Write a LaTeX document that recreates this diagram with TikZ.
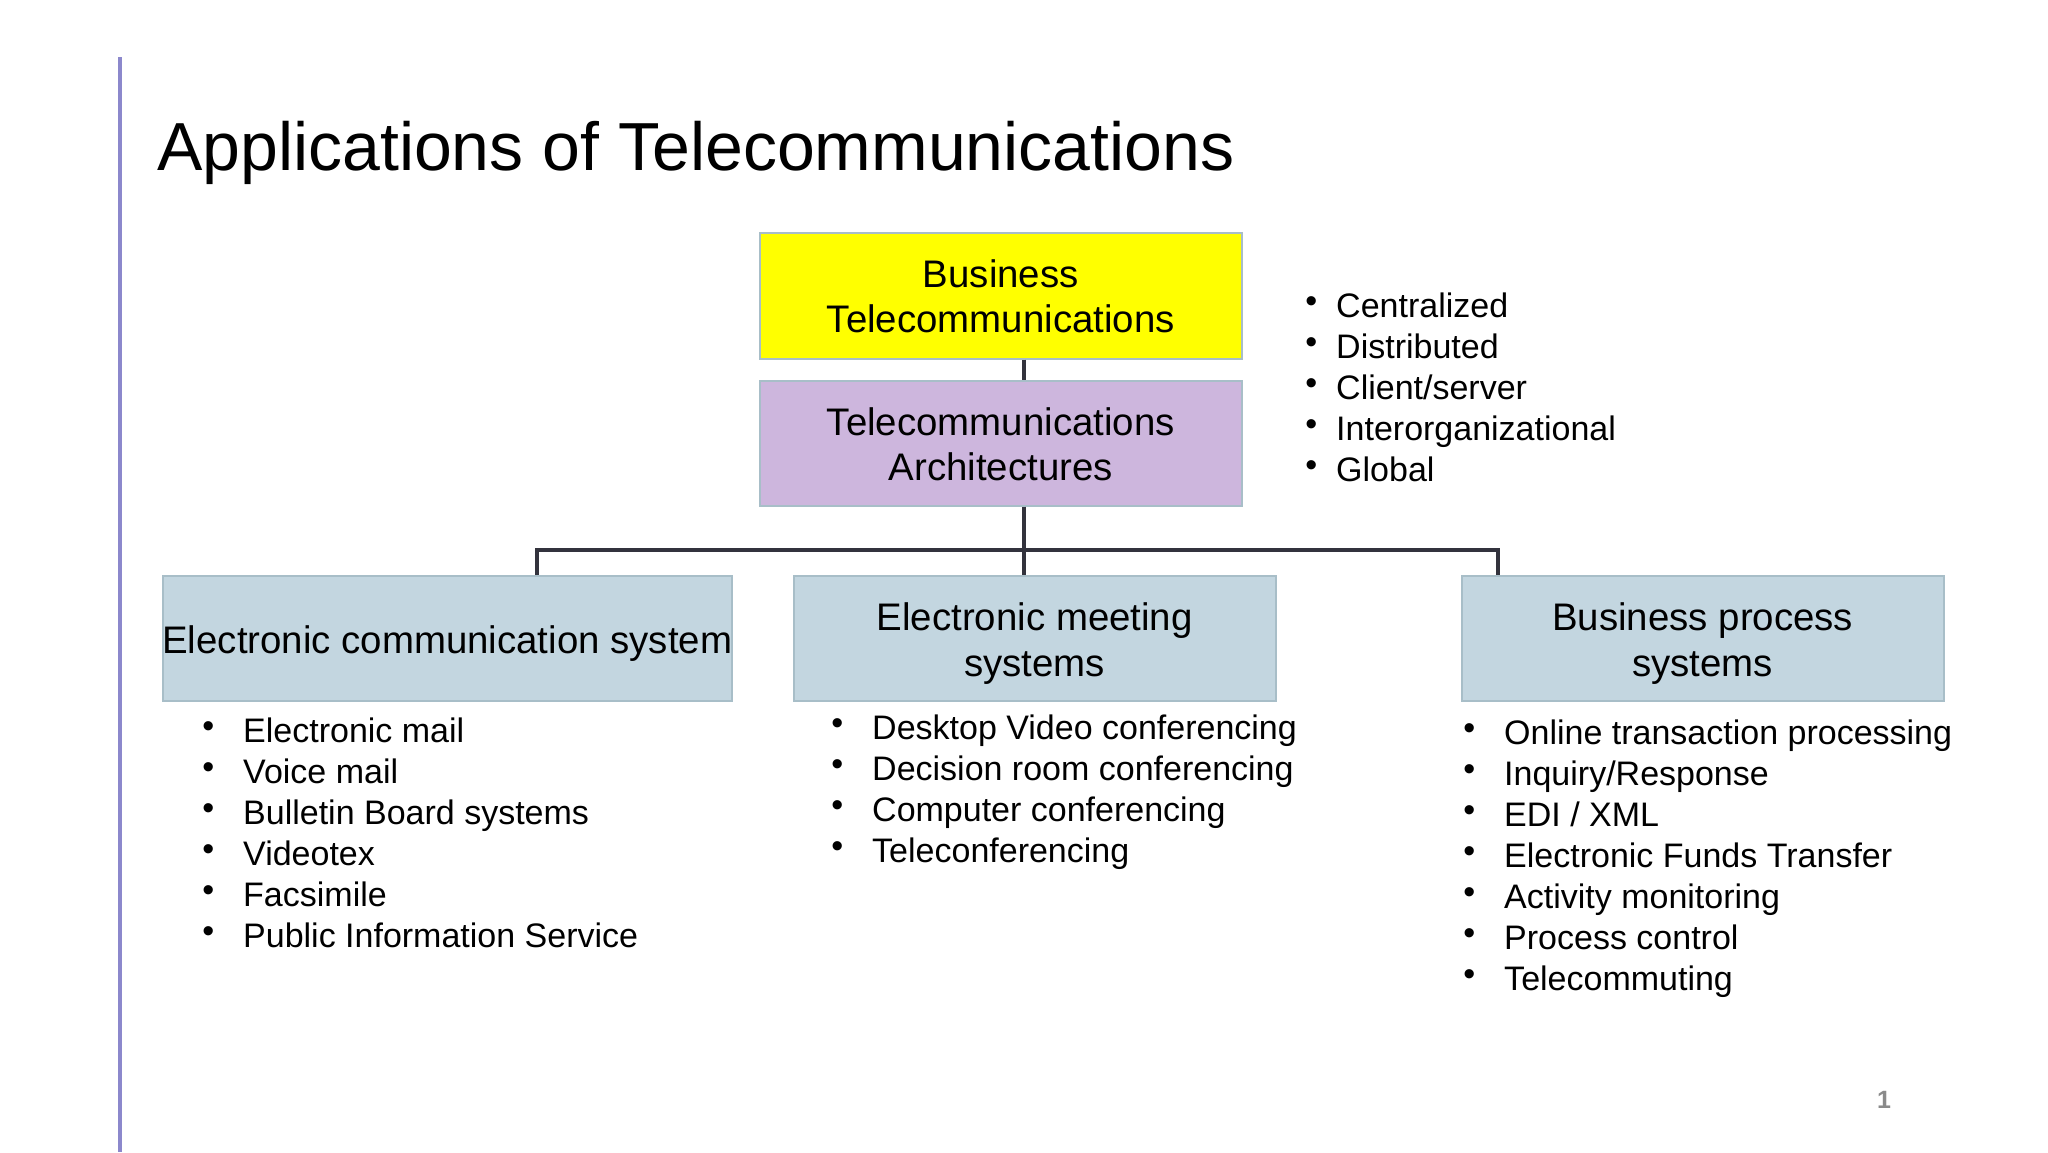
\documentclass[tikz,border=0pt]{standalone}
\usepackage{fontspec}
\setmainfont{Liberation Sans}
\definecolor{yel}{HTML}{FFFF00}
\definecolor{arch}{HTML}{CDB6DD}
\definecolor{sysc}{HTML}{C3D6E0}
\definecolor{boxline}{HTML}{A8BEC8}
\definecolor{connc}{HTML}{33333D}
\definecolor{leftbar}{HTML}{8C88CC}
\definecolor{pagec}{HTML}{8A8A8A}
\newcommand\bulA{\llap{\raisebox{5pt}{\fontsize{34}{34}\selectfont •}\hspace{29pt}}}
\newcommand\bulB{\llap{\raisebox{5pt}{\fontsize{34}{34}\selectfont •}\hspace{19pt}}}
\begin{document}
\begin{tikzpicture}[x=1pt,y=-1pt,
  conn/.style={draw=connc, line width=4pt},
  box/.style={draw=boxline, line width=1.5pt, anchor=north west, inner sep=0pt},
  boxtext/.style={inner sep=0pt, align=center, font=\fontsize{38.4}{45}\selectfont},
  toptext/.style={boxtext, yshift=-1pt},
  bottext/.style={boxtext, yshift=-5.5pt, font=\fontsize{38.4}{46.5}\selectfont},
  item/.style={anchor=base west, inner sep=0pt, font=\fontsize{34}{41}\selectfont},
]
\fill[white] (0,0) rectangle (2048,1152);
\path[use as bounding box] (0,0) rectangle (2048,1152);
\draw[draw=leftbar, line width=4pt] (120,57) -- (120,1152);
\node[anchor=base west, inner sep=0pt, font=\fontsize{68}{80}\selectfont] (title) at (157,170) {Applications of Telecommunications};

\node[box, fill=yel, minimum width=482pt, minimum height=126pt] (biz) at (759,232) {};
\node[toptext] (biztx) at (biz.center) {Business\\Telecommunications};
\node[box, fill=arch, minimum width=482pt, minimum height=125pt] (arc) at (759,380) {};
\node[toptext] (arctx) at (arc.center) {Telecommunications\\Architectures};
\node[box, fill=sysc, minimum width=569pt, minimum height=125pt] (ecs) at (162,575) {};
\node[bottext] (ecstx) at (ecs.center) {Electronic communication system};
\node[box, fill=sysc, minimum width=482pt, minimum height=125pt] (ems) at (793,575) {};
\node[bottext] (emstx) at (ems.center) {Electronic meeting\\systems};
\node[box, fill=sysc, minimum width=482pt, minimum height=125pt] (bps) at (1461,575) {};
\node[bottext] (bpstx) at (bps.center) {Business process\\systems};

\coordinate (cx) at (1024,550);
\coordinate (cl) at (537,550);
\coordinate (cr) at (1498,550);
\draw[conn] (biz.south -| cx) -- (arc.north -| cx);
\draw[conn] (arc.south -| cx) -- (ems.north -| cx);
\draw[conn] (ecs.north -| cl) -- (cl) -- (cr) -- (bps.north -| cr);

% architecture list
\node[item] (a1) at (1336,317) {\bulB Centralized};
\node[item] (a2) at (1336,358) {\bulB Distributed};
\node[item] (a3) at (1336,399) {\bulB Client/server};
\node[item] (a4) at (1336,440) {\bulB Interorganizational};
\node[item] (a5) at (1336,481) {\bulB Global};

% electronic communication list
\node[item] (l1) at (243,742) {\bulA Electronic mail};
\node[item] (l2) at (243,783) {\bulA Voice mail};
\node[item] (l3) at (243,824) {\bulA Bulletin Board systems};
\node[item] (l4) at (243,865) {\bulA Videotex};
\node[item] (l5) at (243,906) {\bulA Facsimile};
\node[item] (l6) at (243,947) {\bulA Public Information Service};

% electronic meeting list
\node[item] (m1) at (872,739) {\bulA Desktop Video conferencing};
\node[item] (m2) at (872,780) {\bulA Decision room conferencing};
\node[item] (m3) at (872,821) {\bulA Computer conferencing};
\node[item] (m4) at (872,862) {\bulA Teleconferencing};

% business process list
\node[item] (r1) at (1504,744) {\bulA Online transaction processing};
\node[item] (r2) at (1504,785) {\bulA Inquiry/Response};
\node[item] (r3) at (1504,826) {\bulA EDI / XML};
\node[item] (r4) at (1504,867) {\bulA Electronic Funds Transfer};
\node[item] (r5) at (1504,908) {\bulA Activity monitoring};
\node[item] (r6) at (1504,949) {\bulA Process control};
\node[item] (r7) at (1504,990) {\bulA Telecommuting};

\node[anchor=base, inner sep=0pt, text=pagec, font=\bfseries\fontsize{25}{25}\selectfont] (pg) at (1884,1108) {1};
\end{tikzpicture}
\end{document}
